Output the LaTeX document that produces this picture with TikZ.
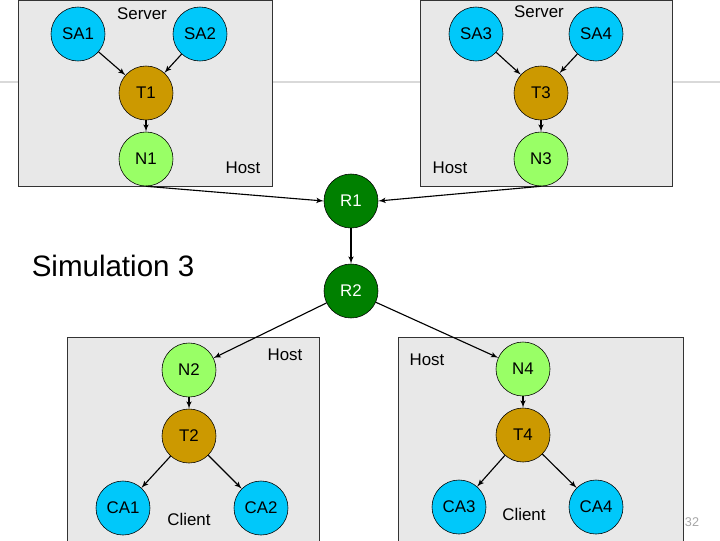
\documentclass[tikz,border=0pt]{standalone}
\usepackage{fontspec}
\setmainfont{Liberation Sans}
\usetikzlibrary{arrows}
\definecolor{sablue}{RGB}{0,200,250}
\definecolor{tgold}{RGB}{204,153,0}
\definecolor{ngreen}{RGB}{153,255,102}
\definecolor{rgreen}{RGB}{0,128,0}
\definecolor{boxgray}{RGB}{232,232,232}
\begin{document}
\begin{tikzpicture}[x=0.025cm,y=-0.025cm]
        \tikzset{vertex/.style = {shape=circle,draw,minimum size=1.35cm,inner sep=0pt,font=\fontsize{12}{14}\selectfont}}
        \tikzset{edge/.style = {->,> = latex', thick}}
        \tikzset{area/.style = {draw=black!80, fill=boxgray}}
        \tikzset{tag/.style = {font=\fontsize{12}{14}\selectfont}}
        \useasboundingbox (0,0) rectangle (720,540);
        \draw[black!15, thick] (0,82) -- (720,82);
        % boxes
        \draw[area] (18,0) rectangle (272,186);
        \draw[area] (420,0) rectangle (672,186);
        \draw[area] (67,337) rectangle (319,545);
        \draw[area] (398,337) rectangle (683,545);
        % vertices
        \node[vertex, fill=sablue] (sa1) at (78,34) {SA1};
        \node[vertex, fill=sablue] (sa2) at (200,34) {SA2};
        \node[vertex, fill=sablue] (sa3) at (476,34) {SA3};
        \node[vertex, fill=sablue] (sa4) at (596,34) {SA4};
        \node[vertex, fill=tgold] (t1) at (146,93) {T1};
        \node[vertex, fill=tgold] (t3) at (541,93) {T3};
        \node[vertex, fill=ngreen] (n1) at (146,159) {N1};
        \node[vertex, fill=ngreen] (n3) at (541,159) {N3};
        \node[vertex, fill=rgreen, text=white] (r1) at (351,201) {R1};
        \node[vertex, fill=rgreen, text=white] (r2) at (351,291) {R2};
        \node[vertex, fill=ngreen] (n2) at (189,370) {N2};
        \node[vertex, fill=tgold] (t2) at (189,436) {T2};
        \node[vertex, fill=sablue] (ca1) at (123,508) {CA1};
        \node[vertex, fill=sablue] (ca2) at (261,508) {CA2};
        \node[vertex, fill=ngreen] (n4) at (523,369) {N4};
        \node[vertex, fill=tgold] (t4) at (523,435) {T4};
        \node[vertex, fill=sablue] (ca3) at (459,507) {CA3};
        \node[vertex, fill=sablue] (ca4) at (596,507) {CA4};
        % labels
        \node[tag] (srv1) at (142,14) {Server};
        \node[tag] (srv2) at (539,12) {Server};
        \node[tag] (host1) at (243,168) {Host};
        \node[tag] (host2) at (450,168) {Host};
        \node[tag] (host3) at (285,355) {Host};
        \node[tag] (host4) at (427,360) {Host};
        \node[tag] (cli1) at (189,519) {Client};
        \node[tag] (cli2) at (524,514) {Client};
        \node[font=\fontsize{21}{24}\selectfont] (sim) at (113,266) {Simulation 3};
        \node[font=\fontsize{9}{10}\selectfont, text=black!35] (page) at (692,522) {32};

        %edges
        \draw[edge] (sa1) -- (t1);
        \draw[edge] (sa2) -- (t1);
        \draw[edge] (sa3) -- (t3);
        \draw[edge] (sa4) -- (t3);
        \draw[edge] (t1) -- (n1);
        \draw[edge] (t3) -- (n3);
        \draw[edge] (n1.south) -- (r1.west);
        \draw[edge] (n3.south) -- (r1.east);
        \draw[edge] (r1) -- (r2);
        \draw[edge] (r2) -- (n2);
        \draw[edge] (r2) -- (n4);
        \draw[edge] (n2) -- (t2);
        \draw[edge] (n4) -- (t4);
        \draw[edge] (t2) -- (ca1);
        \draw[edge] (t2) -- (ca2);
        \draw[edge] (t4) -- (ca3);
        \draw[edge] (t4) -- (ca4);
\end{tikzpicture}
\end{document}
